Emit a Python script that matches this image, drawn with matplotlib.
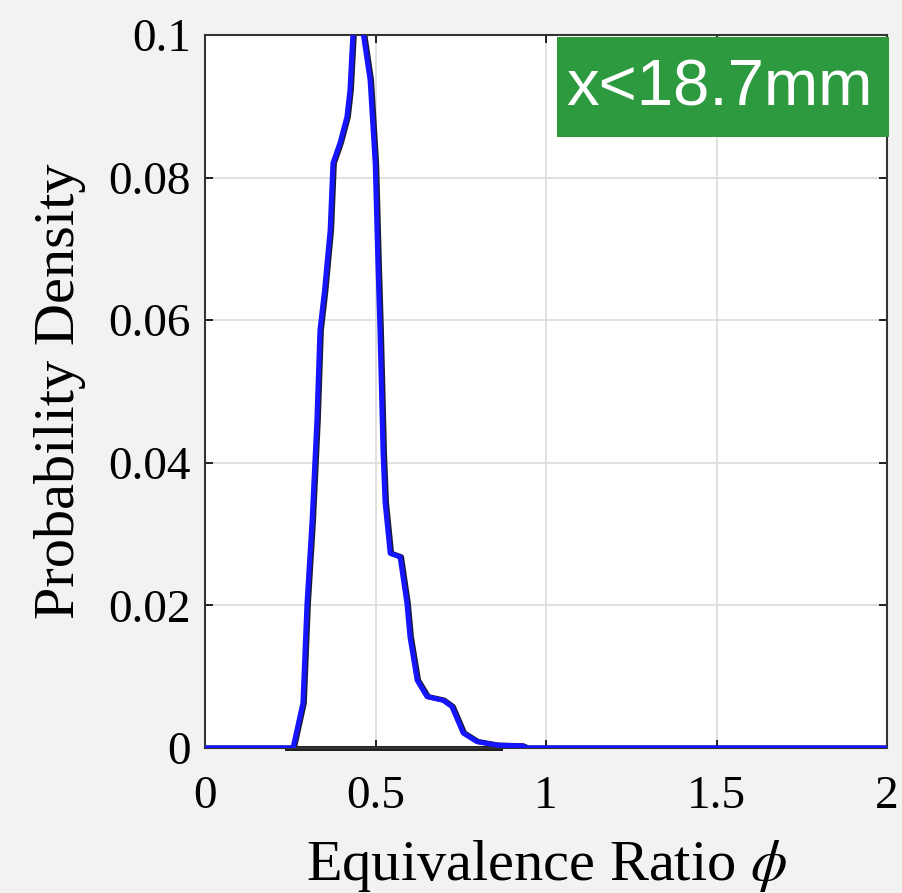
import matplotlib
matplotlib.use("Agg")
import matplotlib.pyplot as plt
from matplotlib.patches import Rectangle
import numpy as np

# data
phi = [0.0, 0.10, 0.20, 0.258, 0.287, 0.299, 0.314, 0.328, 0.337, 0.350, 0.367, 0.375,
       0.396, 0.416, 0.425, 0.434, 0.448, 0.463, 0.484, 0.499, 0.507, 0.513, 0.522,
       0.528, 0.543, 0.572, 0.592, 0.601, 0.622, 0.651, 0.698, 0.724, 0.757, 0.797,
       0.856, 0.930, 0.944, 1.2, 1.5, 1.8, 2.0]
pdf = [0.0, 0.0, 0.0, 0.0, 0.0063, 0.0203, 0.032, 0.046, 0.0586, 0.064, 0.0727, 0.082,
       0.0849, 0.0885, 0.0923, 0.1005, 0.1015, 0.1005, 0.0937, 0.082, 0.068, 0.0586,
       0.0414, 0.0344, 0.0273, 0.0268, 0.0203, 0.0156, 0.0095, 0.0072, 0.0067, 0.0058,
       0.0021, 0.0009, 0.0004, 0.0003, 0.0, 0.0, 0.0, 0.0, 0.0]
base_phi = [0.24, 0.865]
base_val = [0.0, 0.0]

xticks = [0, 0.5, 1, 1.5, 2]
xticklabels = ["0", "0.5", "1", "1.5", "2"]
yticks = [0, 0.02, 0.04, 0.06, 0.08, 0.1]
yticklabels = ["0", "0.02", "0.04", "0.06", "0.08", "0.1"]

plt.rcParams['font.family'] = ['Liberation Serif', 'DejaVu Serif']
plt.rcParams['mathtext.fontset'] = 'stix'

fig = plt.figure(figsize=(9.02, 8.93), dpi=100, facecolor='#f2f2f2')
ax = fig.add_axes([205/902, 1-748/893, (887-205)/902, (748-35)/893])
ax.set_facecolor('white')

ax.plot(base_phi, base_val, color='#222222', lw=3.6, zorder=2, clip_on=False)
ax.plot(np.array(phi) + 0.004, pdf, color='#1a1a40', lw=3.8, zorder=2)
ax.plot(phi, pdf, color='#1515ff', lw=3.6, zorder=3)

ax.set_xlim(0, 2)
ax.set_ylim(0, 0.1)
ax.set_xticks(xticks)
ax.set_xticklabels(xticklabels)
ax.set_yticks(yticks)
ax.set_yticklabels(yticklabels)
ax.tick_params(direction='in', length=6, width=1.2, labelsize=34, top=True, right=True)
ax.tick_params(axis='x', pad=20)
ax.tick_params(axis='y', pad=10)
ax.grid(True, color='#dcdcdc', lw=1.2)
ax.set_axisbelow(True)
for s in ax.spines.values():
    s.set_color('#333333')
    s.set_linewidth(1.5)

ax.set_xlabel(r"Equivalence Ratio $\phi$", fontsize=42, labelpad=14)
ax.set_ylabel("Probability Density", fontsize=42, labelpad=16)

ax.add_patch(Rectangle((0.516, 0.857), 0.487, 0.140, transform=ax.transAxes,
                       fc='#2e9a40', ec='none', zorder=5, clip_on=False))
ax.text(0.755, 0.925, "x<18.7mm", transform=ax.transAxes, ha='center', va='center',
        fontsize=47, color='white', family=['Liberation Sans', 'DejaVu Sans'], zorder=6)

fig.savefig("out.png", dpi=100, facecolor=fig.get_facecolor())
